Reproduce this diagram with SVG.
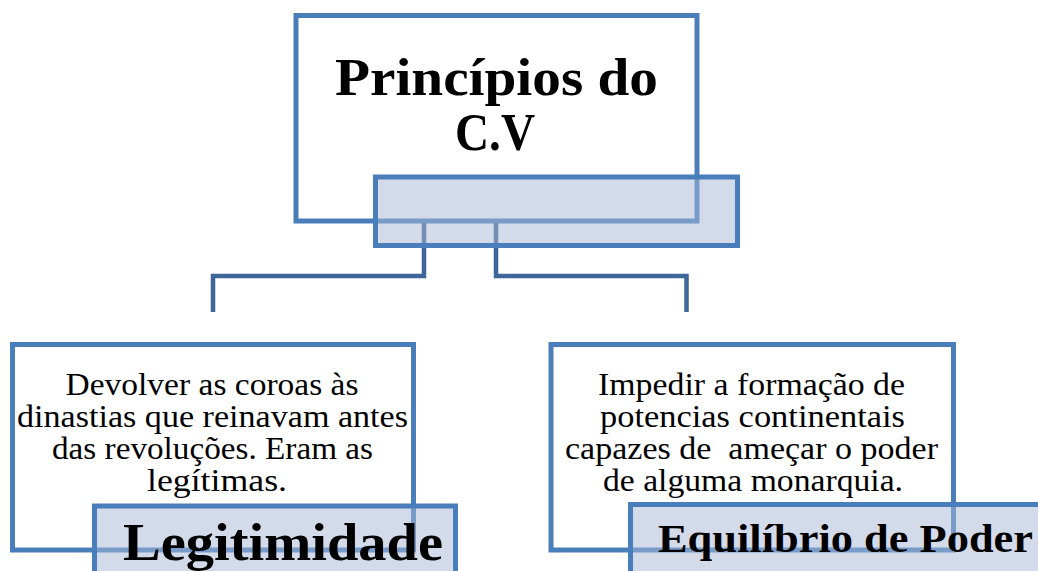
<svg xmlns="http://www.w3.org/2000/svg" width="1038" height="571" viewBox="0 0 1038 571">
<style>
.box{fill:#ffffff;stroke:#4a7ebb;stroke-width:5}
.lbl{fill:#a7b7d6;fill-opacity:0.5;stroke:#4a7ebb;stroke-width:5}
.conn{fill:none;stroke:#3e6698;stroke-width:4.5}
.body{font-family:"Liberation Serif","Times New Roman",serif;font-size:31px;fill:#000;text-anchor:middle}
.title{font-family:"Liberation Serif","Times New Roman",serif;font-weight:bold;fill:#000;text-anchor:middle}
</style>
<rect width="1038" height="571" fill="#ffffff"/>
<g id="top-node">
<rect class="box" x="296" y="15.5" width="401" height="205.5"/>
<text class="title" font-size="52" x="496.5" y="95" textLength="323" lengthAdjust="spacingAndGlyphs">Princípios do</text>
<text class="title" font-size="52" x="495" y="150" textLength="80" lengthAdjust="spacingAndGlyphs">C.V</text>
</g>
<g id="connectors">
<polyline class="conn" points="424,223 424,276 213,276 213,312"/>
<polyline class="conn" points="496,223 496,276 686.5,276 686.5,312"/>
</g>
<g id="top-label">
<rect class="lbl" x="375.5" y="177" width="362" height="68.5"/>
</g>
<g id="left-node">
<rect class="box" x="12.5" y="344.5" width="401" height="205.5"/>
<text class="body" x="212" y="395" textLength="293" lengthAdjust="spacingAndGlyphs">Devolver as coroas às</text>
<text class="body" x="212.5" y="427" textLength="391" lengthAdjust="spacingAndGlyphs">dinastias que reinavam antes</text>
<text class="body" x="212.5" y="459" textLength="321" lengthAdjust="spacingAndGlyphs">das revoluções. Eram as</text>
<text class="body" x="217" y="491" textLength="140" lengthAdjust="spacingAndGlyphs">legítimas.</text>
<rect class="lbl" x="94.5" y="506" width="361" height="100"/>
<text class="title" font-size="52" x="283" y="560" textLength="320" lengthAdjust="spacingAndGlyphs">Legitimidade</text>
</g>
<g id="right-node">
<rect class="box" x="551" y="344.5" width="402.5" height="205.5"/>
<text class="body" x="751.5" y="395" textLength="307" lengthAdjust="spacingAndGlyphs">Impedir a formação de</text>
<text class="body" x="752.5" y="427" textLength="305" lengthAdjust="spacingAndGlyphs">potencias continentais</text>
<text class="body" x="751.5" y="459" textLength="373" lengthAdjust="spacingAndGlyphs" style="white-space:pre">capazes de  ameçar o poder</text>
<text class="body" x="753" y="491" textLength="300" lengthAdjust="spacingAndGlyphs">de alguma monarquia.</text>
<rect class="lbl" x="630.5" y="504.5" width="440" height="100"/>
<text class="title" font-size="40" x="845.5" y="552" textLength="375" lengthAdjust="spacingAndGlyphs">Equilíbrio de Poder</text>
</g>
</svg>
